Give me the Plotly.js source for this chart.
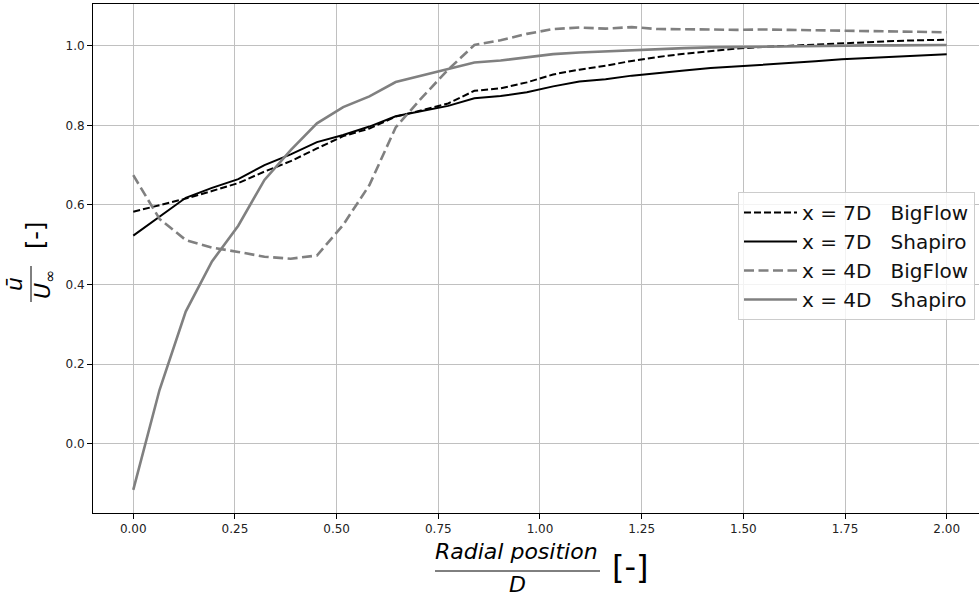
<!DOCTYPE html>
<html>
<head>
<meta charset="utf-8">
<script src="https://cdn.plot.ly/plotly-3.0.1.min.js"></script>
<style>
  html, body { margin: 0; padding: 0; background: #fff; }
  #chart { width: 979px; height: 596px; }
</style>
</head>
<body>
<div id="chart"></div>
<script>
// Radial positions r/D of the sampled wake profile points
const radialPos = [0, 0.0645, 0.129, 0.1935, 0.2581, 0.3226, 0.3871, 0.4516, 0.5161, 0.5806,
  0.6452, 0.7097, 0.7742, 0.8387, 0.9032, 0.9677, 1.0323, 1.0968, 1.1613, 1.2258,
  1.2903, 1.3548, 1.4194, 1.4839, 1.5484, 1.6129, 1.6774, 1.7419, 1.8065, 1.871, 1.9355, 2.0];

// Normalised mean streamwise velocity u/U_inf
const bigflow7D = [0.583, 0.600, 0.616, 0.635, 0.655, 0.684, 0.710, 0.742, 0.773, 0.792,
  0.822, 0.838, 0.855, 0.887, 0.893, 0.908, 0.928, 0.940, 0.950, 0.962,
  0.972, 0.980, 0.987, 0.993, 0.997, 1.000, 1.004, 1.007, 1.010, 1.012, 1.014, 1.015];
const shapiro7D = [0.523, 0.570, 0.618, 0.643, 0.665, 0.700, 0.727, 0.758, 0.776, 0.797,
  0.823, 0.836, 0.849, 0.868, 0.874, 0.883, 0.898, 0.910, 0.916, 0.925,
  0.932, 0.938, 0.944, 0.948, 0.953, 0.957, 0.961, 0.966, 0.969, 0.973, 0.976, 0.979];
const bigflow4D = [0.675, 0.565, 0.512, 0.493, 0.482, 0.470, 0.465, 0.473, 0.550, 0.650,
  0.795, 0.870, 0.940, 1.002, 1.014, 1.030, 1.042, 1.046, 1.043, 1.047,
  1.042, 1.042, 1.041, 1.040, 1.041, 1.040, 1.039, 1.038, 1.037, 1.036, 1.035, 1.034];
const shapiro4D = [-0.116, 0.135, 0.332, 0.458, 0.548, 0.663, 0.738, 0.805, 0.846, 0.873,
  0.909, 0.925, 0.942, 0.958, 0.963, 0.971, 0.979, 0.983, 0.986, 0.989,
  0.992, 0.994, 0.996, 0.997, 0.998, 0.999, 1.000, 1.000, 1.001, 1.001, 1.002, 1.002];

const seriesNames = ['x = 7D\u00a0\u00a0\u00a0BigFlow', 'x = 7D\u00a0\u00a0\u00a0Shapiro',
                     'x = 4D\u00a0\u00a0\u00a0BigFlow', 'x = 4D\u00a0\u00a0\u00a0Shapiro'];

const xTickVals = [0, 0.25, 0.5, 0.75, 1.0, 1.25, 1.5, 1.75, 2.0];
const xTickText = ['0.00', '0.25', '0.50', '0.75', '1.00', '1.25', '1.50', '1.75', '2.00'];
const yTickVals = [0, 0.2, 0.4, 0.6, 0.8, 1.0];
const yTickText = ['0.0', '0.2', '0.4', '0.6', '0.8', '1.0'];

// Plot-area geometry in page pixels
const W = 979, H = 596;
const M = { l: 93, r: 0, t: 4, b: 83 };
const plotW = W - M.l - M.r, plotH = H - M.t - M.b;
const px = x => (x - M.l) / plotW;            // page x -> paper x
const py = y => (H - M.b - y) / plotH;        // page y -> paper y

const BLACK = '#000000', GREY = '#808080';
const FONT = 'DejaVu Sans, Verdana, sans-serif';

const traces = [
  { x: radialPos, y: bigflow7D, name: seriesNames[0], mode: 'lines',
    line: { color: BLACK, width: 2, dash: '7px,3px' } },
  { x: radialPos, y: shapiro7D, name: seriesNames[1], mode: 'lines',
    line: { color: BLACK, width: 2 } },
  { x: radialPos, y: bigflow4D, name: seriesNames[2], mode: 'lines',
    line: { color: GREY, width: 2.6, dash: '10px,4.5px' } },
  { x: radialPos, y: shapiro4D, name: seriesNames[3], mode: 'lines',
    line: { color: GREY, width: 2.6 } }
];

const axisCommon = {
  showgrid: true, gridcolor: '#c0c0c0', gridwidth: 1,
  showline: true, linecolor: '#000', linewidth: 1,
  ticks: 'outside', ticklen: 5, tickwidth: 1, tickcolor: '#000',
  tickfont: { family: FONT, size: 12, color: '#222' },
  zeroline: false, fixedrange: true
};

const annotations = [
  // x-axis label: Radial position / D  [-]
  { text: '<i>Radial position</i>', x: px(516), y: py(551), xref: 'paper', yref: 'paper',
    showarrow: false, xanchor: 'center', yanchor: 'middle',
    font: { family: FONT, size: 22, color: '#000' } },
  { text: '<i>D</i>', x: px(517), y: py(584), xref: 'paper', yref: 'paper',
    showarrow: false, xanchor: 'center', yanchor: 'middle',
    font: { family: FONT, size: 22, color: '#000' } },
  { text: '[-]', x: px(630), y: py(567), xref: 'paper', yref: 'paper',
    showarrow: false, xanchor: 'center', yanchor: 'middle',
    font: { family: FONT, size: 32, color: '#000' } },
  // y-axis label: u-bar / U_inf  [-]
  { text: '<i>ū</i>', x: px(15), y: py(284), xref: 'paper', yref: 'paper',
    showarrow: false, xanchor: 'center', yanchor: 'middle', textangle: -90,
    font: { family: FONT, size: 22, color: '#000' } },
  { text: '<i>U</i><sub>∞</sub>', x: px(45), y: py(285), xref: 'paper', yref: 'paper',
    showarrow: false, xanchor: 'center', yanchor: 'middle', textangle: -90,
    font: { family: FONT, size: 22, color: '#000' } },
  { text: '[-]', x: px(36), y: py(236), xref: 'paper', yref: 'paper',
    showarrow: false, xanchor: 'center', yanchor: 'middle', textangle: -90,
    font: { family: FONT, size: 24, color: '#000' } }
];

const shapes = [
  { type: 'line', xref: 'paper', yref: 'paper', x0: px(435), x1: px(600), y0: py(571), y1: py(571),
    line: { color: '#000', width: 1 } },
  { type: 'line', xref: 'paper', yref: 'paper', x0: px(31), x1: px(31), y0: py(266), y1: py(302),
    line: { color: '#000', width: 1 } }
];

const layout = {
  width: W, height: H, margin: M,
  paper_bgcolor: '#fff', plot_bgcolor: '#fff',
  font: { family: FONT, color: '#000' },
  xaxis: Object.assign({}, axisCommon, {
    range: [-0.099, 2.0794], tickvals: xTickVals, ticktext: xTickText, mirror: true
  }),
  yaxis: Object.assign({}, axisCommon, {
    range: [-0.174, 1.105], tickvals: yTickVals, ticktext: yTickText
  }),
  showlegend: true,
  legend: {
    x: px(738), y: py(192), xanchor: 'left', yanchor: 'top',
    bgcolor: 'rgba(255,255,255,0.8)', bordercolor: '#cccccc', borderwidth: 1,
    itemwidth: 53,
    font: { family: FONT, size: 20, color: '#111' }
  },
  annotations: annotations,
  shapes: shapes
};

Plotly.newPlot('chart', traces, layout, { staticPlot: true, displayModeBar: false });
</script>
</body>
</html>
